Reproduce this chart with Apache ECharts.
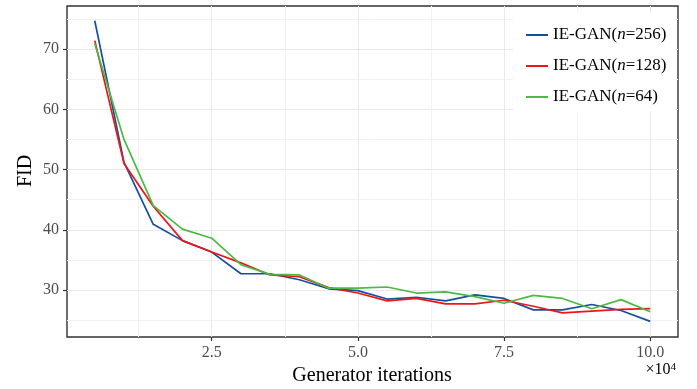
<!DOCTYPE html>
<html>
<head>
<meta charset="utf-8">
<script src="https://cdn.jsdelivr.net/npm/echarts@6/dist/echarts.min.js"></script>
<style>html,body{margin:0;padding:0;background:#fff;}#c{width:697px;height:389px;}</style>
</head>
<body>
<div id="c"></div>
<script>
// Generator iterations (in units of 10^4)
const iterations = [0.5, 1.0, 1.5, 2.0, 2.5, 3.0, 3.5, 4.0, 4.5, 5.0, 5.5, 6.0, 6.5, 7.0, 7.5, 8.0, 8.5, 9.0, 9.5, 10.0];
const fidN256 = [74.7, 51.2, 40.9, 38.2, 36.3, 32.7, 32.7, 31.7, 30.2, 29.9, 28.5, 28.8, 28.2, 29.2, 28.6, 26.7, 26.7, 27.6, 26.6, 24.8];
const fidN128 = [71.4, 51.0, 43.9, 38.2, 36.3, 34.5, 32.5, 32.2, 30.4, 29.5, 28.2, 28.6, 27.7, 27.7, 28.3, 27.3, 26.2, 26.5, 26.8, 26.9];
const fidN64  = [70.9, 55.0, 44.0, 40.1, 38.6, 34.2, 32.6, 32.5, 30.3, 30.3, 30.5, 29.5, 29.7, 28.9, 27.8, 29.1, 28.6, 26.9, 28.4, 26.4];
const seriesNames = ['256', '128', '64'];
const xTicks = [2.5, 5.0, 7.5, 10.0];
const xGridLines = [1.25, 2.5, 3.75, 5.0, 6.25, 7.5, 8.75, 10.0];
const yTicks = [30, 40, 50, 60, 70];
const yGridLines = [25, 30, 35, 40, 45, 50, 55, 60, 65, 70, 75];

const FONT = '"Liberation Serif", "Times New Roman", serif';
const colors = ['#13509f', '#f01414', '#4cb944'];
const seriesData = [fidN256, fidN128, fidN64];
const gridColors = ['#f2f2f2', '#e9e9e9'];

const chart = echarts.init(document.getElementById('c'), null, {renderer: 'canvas'});
const xMin = 0.025, xMax = 10.475, yMin = 22.2, yMax = 77.15;

const tickStyle = {show: true, length: 4, lineStyle: {color: '#333', width: 1.2}};
const labelStyle = {color: '#4d4d4d', fontFamily: FONT, fontSize: 16};

const option = {
  animation: false,
  backgroundColor: '#fff',
  grid: {left: 67, right: 19, top: 6, bottom: 52, show: true, borderColor: '#333', borderWidth: 1.4, backgroundColor: 'transparent', containLabel: false},
  xAxis: [
    {type: 'value', min: xMin, max: xMax, axisLine: {show: false},
     axisTick: {show: false, customValues: xGridLines}, axisLabel: {show: false},
     splitLine: {show: true, lineStyle: {color: gridColors, width: 1}}},
    {type: 'value', min: xMin, max: xMax, position: 'bottom', axisLine: {show: false},
     axisTick: Object.assign({customValues: xTicks}, tickStyle),
     axisLabel: Object.assign({customValues: xTicks, margin: 8, formatter: v => v.toFixed(1)}, labelStyle),
     splitLine: {show: false}}
  ],
  yAxis: [
    {type: 'value', min: yMin, max: yMax, axisLine: {show: false},
     axisTick: {show: false, customValues: yGridLines}, axisLabel: {show: false},
     splitLine: {show: true, lineStyle: {color: gridColors, width: 1}}},
    {type: 'value', min: yMin, max: yMax, position: 'left', axisLine: {show: false},
     axisTick: Object.assign({customValues: yTicks}, tickStyle),
     axisLabel: Object.assign({customValues: yTicks, margin: 8}, labelStyle),
     splitLine: {show: false}}
  ],
  legend: {
    orient: 'vertical', left: 513, top: 12,
    padding: [13, 8, 4, 13],
    backgroundColor: '#fff',
    icon: 'rect', itemWidth: 22, itemHeight: 2, itemGap: 11,
    data: seriesNames.map(n => 'IE-GAN(n=' + n + ')'),
    formatter: function (name) {
      const m = name.match(/n=(\d+)/);
      return '{a|IE-GAN(}{i|n}{a|=' + m[1] + ')}';
    },
    textStyle: {
      fontFamily: FONT, fontSize: 17, color: '#000', lineHeight: 20,
      rich: {
        a: {fontFamily: FONT, fontSize: 17, color: '#000', lineHeight: 20},
        i: {fontFamily: FONT, fontSize: 17, color: '#000', fontStyle: 'italic', lineHeight: 20}
      }
    }
  },
  graphic: [
    {type: 'text', style: {text: 'Generator iterations', font: '20px ' + FONT, fill: '#000', textAlign: 'center', textVerticalAlign: 'middle'}, position: [372, 376]},
    {type: 'text', style: {text: 'FID', font: '20px ' + FONT, fill: '#000', textAlign: 'center', textVerticalAlign: 'middle'}, position: [26, 171], rotation: Math.PI / 2},
    {type: 'text', style: {text: '{a|×10}{s|4}', textAlign: 'right', textVerticalAlign: 'middle',
      rich: {a: {fontFamily: FONT, fontSize: 16, color: '#4d4d4d'}, s: {fontFamily: FONT, fontSize: 11, color: '#4d4d4d', verticalAlign: 'top', padding: [0, 0, 6, 0]}}},
     position: [676, 370]}
  ],
  series: seriesNames.map((n, k) => ({
    name: 'IE-GAN(n=' + n + ')',
    type: 'line',
    xAxisIndex: 0, yAxisIndex: 0,
    data: iterations.map((x, i) => [x, seriesData[k][i]]),
    showSymbol: false, symbol: 'none',
    lineStyle: {color: colors[k], width: 1.7},
    itemStyle: {color: colors[k]},
    z: 3 + k
  }))
};
chart.setOption(option);
</script>
</body>
</html>
